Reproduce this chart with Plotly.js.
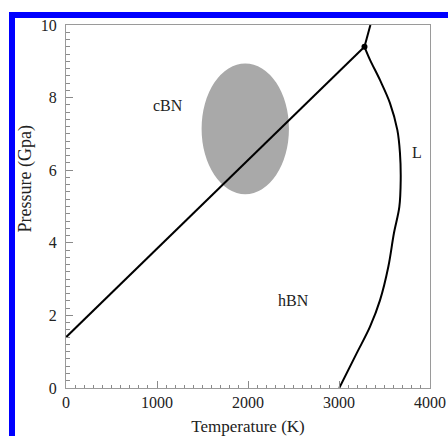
<!DOCTYPE html>
<html>
<head>
<meta charset="utf-8">
<script src="https://cdn.plot.ly/plotly-3.0.1.min.js"></script>
<style>
  html, body { margin: 0; padding: 0; background: #fff; }
  #wrap { position: relative; width: 448px; height: 436px; overflow: hidden; }
  #chart { position: absolute; left: 0; top: 0; width: 448px; height: 436px; }
  #frame { position: absolute; left: 9px; top: 12px; width: 470px; height: 460px;
           border-left: 6px solid #0000ff; border-top: 6px solid #0000ff; pointer-events: none; }
</style>
</head>
<body>
<div id="wrap">
  <div id="chart"></div>
  <div id="frame"></div>
</div>
<script>
// hBN / cBN phase boundary (straight line up to the triple point)
const boundaryT = [0, 3280];
const boundaryP = [1.4, 9.4];

// cBN / liquid boundary above the triple point
const upperT = [3280, 3345];
const upperP = [9.4, 10];

// melting curve (hBN / liquid)
const meltT = [3280, 3341, 3451, 3560, 3641, 3670, 3678, 3663, 3604, 3542, 3451, 3341, 3195, 3003];
const meltP = [9.40, 9.04, 8.48, 7.85, 7.11, 6.47, 5.73, 4.99, 4.27, 3.34, 2.42, 1.69, 0.96, 0];

// triple point
const tripleT = [3280];
const tripleP = [9.4];

// synthesis region (ellipse): centre [T, P], semi-axes [dT, dP]
const ellipseCenter = [1970, 7.14];
const ellipseRadii = [480, 1.80];

// phase labels
const phaseNames = ['cBN', 'hBN', 'L'];
const phaseT = [1121, 2505, 3854];
const phaseP = [7.77, 2.40, 6.48];

// ticks
const xTicks = [0, 1000, 2000, 3000, 4000];
const yTicks = [0, 2, 4, 6, 8, 10];

const FONT = 'Liberation Serif, Times New Roman, serif';
const lineStyle = { color: '#000', width: 2 };

const traces = [
  { x: boundaryT, y: boundaryP, mode: 'lines', line: lineStyle, hoverinfo: 'skip', showlegend: false },
  { x: upperT, y: upperP, mode: 'lines', line: lineStyle, hoverinfo: 'skip', showlegend: false },
  { x: meltT, y: meltP, mode: 'lines', line: Object.assign({ shape: 'spline', smoothing: 1 }, lineStyle), hoverinfo: 'skip', showlegend: false },
  { x: tripleT, y: tripleP, mode: 'markers', marker: { color: '#000', size: 6 }, hoverinfo: 'skip', showlegend: false }
];

const annotations = phaseNames.map((n, i) => ({
  x: phaseT[i], y: phaseP[i], xref: 'x', yref: 'y', text: n, showarrow: false,
  font: { family: FONT, size: 16, color: '#222' }
}));
annotations.push({
  xref: 'paper', yref: 'paper', x: -0.112, y: 0.575, xanchor: 'center', yanchor: 'middle',
  text: 'Pressure (Gpa)', textangle: -90,
  showarrow: false, font: { family: FONT, size: 18, color: '#222' }
});

const axisCommon = {
  showline: true, mirror: true, linecolor: '#9a9a9a', linewidth: 1,
  ticks: 'inside', tickcolor: '#8a8a8a', ticklen: 7, tickwidth: 1,
  showgrid: false, zeroline: false,
  tickfont: { family: FONT, size: 16, color: '#222' }
};

const layout = {
  width: 448, height: 436,
  margin: { l: 66, r: 18, t: 25, b: 48 },
  paper_bgcolor: 'rgba(0,0,0,0)', plot_bgcolor: '#fff',
  xaxis: Object.assign({}, axisCommon, {
    range: [0, 4000], tickvals: xTicks, ticktext: xTicks.map(String),
    minor: { dtick: 100, ticks: 'inside', ticklen: 3, tickcolor: '#8a8a8a', showgrid: false },
    title: { text: 'Temperature (K)', font: { family: FONT, size: 17, color: '#222' }, standoff: 11 }
  }),
  yaxis: Object.assign({}, axisCommon, {
    range: [0, 10], tickvals: yTicks, ticktext: yTicks.map(String),
    ticklabelstandoff: 5,
    minor: { dtick: 0.2, ticks: 'inside', ticklen: 4, tickcolor: '#8a8a8a', showgrid: false }
  }),
  shapes: [{
    type: 'circle', xref: 'x', yref: 'y', layer: 'below',
    x0: ellipseCenter[0] - ellipseRadii[0], x1: ellipseCenter[0] + ellipseRadii[0],
    y0: ellipseCenter[1] - ellipseRadii[1], y1: ellipseCenter[1] + ellipseRadii[1],
    fillcolor: '#a9a9a9', line: { width: 0 }
  }],
  annotations: annotations
};

Plotly.newPlot('chart', traces, layout, { staticPlot: true, displayModeBar: false });
</script>
</body>
</html>
